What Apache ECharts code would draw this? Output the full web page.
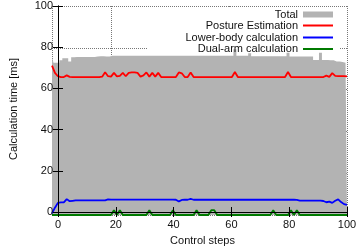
<!DOCTYPE html>
<html>
<head>
<meta charset="utf-8">
<script src="https://cdn.jsdelivr.net/npm/echarts@6/dist/echarts.min.js"></script>
<style>
  html, body { margin: 0; padding: 0; background: #fff; }
  #chart { width: 360px; height: 251px; }
</style>
</head>
<body>
<div id="chart"></div>
<script>
  // values per control step, index = step (0..100)
  const totalTime = [
    75.5, 72.8, 72.8, 74.0, 75.0, 75.0, 73.5, 75.5, 75.6, 75.6,
    75.6, 75.6, 75.6, 75.6, 75.6, 75.8, 76.0, 76.0, 75.8, 75.8,
    76.2, 76.2, 76.2, 76.2, 76.2, 76.2, 76.2, 76.2, 76.2, 76.2,
    76.2, 76.2, 76.2, 76.2, 76.2, 76.2, 76.2, 76.2, 76.2, 76.2,
    76.2, 76.2, 76.2, 76.2, 76.2, 76.2, 76.2, 76.2, 76.2, 76.2,
    76.2, 76.2, 76.2, 76.2, 76.2, 76.2, 76.2, 76.2, 76.2, 76.2,
    76.2, 76.2, 79.3, 76.2, 76.2, 76.2, 76.2, 77.4, 76.0, 76.0,
    76.0, 76.0, 76.0, 76.0, 76.0, 76.0, 76.0, 76.0, 76.0, 76.0,
    77.6, 75.8, 75.8, 75.8, 75.8, 75.8, 75.8, 75.8, 75.8, 74.2,
    74.2, 77.6, 74.2, 74.2, 74.0, 74.0, 73.4, 73.4, 73.2, 72.9,
    72.9
  ];
  const postureTime = [
    71.5, 68.0, 66.4, 66.0, 66.0, 66.8, 66.1, 66.0, 66.0, 66.0,
    66.0, 66.0, 66.0, 66.0, 66.0, 66.0, 66.0, 66.2, 68.3, 66.4,
    66.2, 68.0, 66.3, 66.6, 68.0, 66.4, 68.0, 68.2, 68.2, 68.0,
    66.2, 66.8, 68.2, 66.2, 68.0, 66.2, 68.0, 66.0, 66.0, 66.0,
    66.0, 66.0, 66.0, 68.2, 67.8, 66.0, 66.0, 68.2, 66.0, 66.0,
    66.0, 66.0, 66.0, 66.0, 66.0, 66.0, 66.0, 66.0, 66.0, 66.0,
    66.0, 66.0, 68.4, 66.0, 66.0, 66.0, 66.0, 66.0, 66.0, 66.0,
    66.0, 66.0, 66.0, 66.0, 66.0, 66.0, 66.0, 66.0, 66.0, 66.0,
    68.4, 66.0, 66.0, 66.0, 66.0, 66.0, 66.0, 66.0, 66.0, 66.0,
    66.0, 66.0, 66.0, 66.7, 66.1, 67.9, 66.6, 66.4, 66.4, 66.4,
    66.3
  ];
  const lowerBodyTime = [
    0.8, 3.5, 5.8, 6.0, 6.0, 7.6, 6.6, 6.8, 7.0, 7.0,
    7.0, 7.0, 7.0, 7.0, 7.0, 7.0, 7.0, 7.0, 7.0, 7.5,
    7.4, 7.4, 7.4, 7.4, 7.4, 7.4, 7.4, 7.4, 7.4, 7.4,
    7.4, 7.4, 7.4, 7.4, 7.4, 7.4, 7.4, 7.4, 7.4, 7.4,
    7.4, 7.4, 7.3, 6.5, 7.2, 7.3, 7.3, 7.7, 7.3, 7.3,
    7.3, 7.3, 7.3, 7.3, 7.3, 7.3, 7.3, 7.3, 7.3, 7.3,
    7.3, 7.3, 7.3, 7.3, 7.3, 7.3, 7.3, 7.3, 7.3, 7.3,
    7.3, 7.3, 7.3, 7.3, 7.3, 7.3, 7.3, 7.3, 7.3, 7.3,
    7.3, 7.3, 7.3, 7.2, 6.9, 6.9, 6.9, 6.9, 6.9, 6.9,
    6.9, 6.9, 6.7, 6.1, 6.4, 5.8, 6.8, 7.5, 6.2, 5.2,
    4.8
  ];
  const dualArmTime = [
    0, 0, 0, 0, 0, 0, 0, 0, 0, 0,
    0, 0, 0, 0, 0, 0, 0, 0, 0, 0,
    0, 2.3, 0, 2.3, 0, 0, 0, 0, 0, 0,
    0, 0, 0, 2.3, 0, 0, 0, 0, 0, 0,
    0, 2.3, 0, 0, 0, 0, 0, 0, 0, 2.3,
    0, 0, 0, 0, 2.3, 2.3, 0, 0, 0, 0,
    0, 0, 0, 0, 0, 0, 0, 0, 0, 0,
    0, 0, 0, 0, 0, 2.3, 0, 0, 0, 0,
    0, 2.3, 0, 2.3, 0, 0, 0, 0, 0, 0,
    0, 0, 0, 0, 0, 0, 0, 0, 0, 0,
    0
  ];

  const font = 'Liberation Sans, Arial, Helvetica, sans-serif';
  const textColor = '#111';

  const toPairs = (arr) => arr.map((v, i) => [i, v]);

  const chart = echarts.init(document.getElementById('chart'));

  const gridBox = { left: 52, right: 13, top: 6, bottom: 36 };

  // black frame, ticks and labels, drawn above the data
  const frameAxis = {
    type: 'value',
    min: 0,
    max: 100,
    interval: 20,
    gridIndex: 1,
    z: 5,
    axisLine: { show: true, lineStyle: { color: '#000', width: 1 } },
    axisTick: { show: true, inside: true, length: 5, lineStyle: { color: '#000' } },
    axisLabel: { show: false },
    splitLine: { show: false },
  };

  // dotted grid, drawn below the data
  const gridAxis = {
    type: 'value',
    min: 0,
    max: 100,
    interval: 20,
    gridIndex: 0,
    z: 0,
    axisLine: { show: false },
    axisTick: { show: false },
    axisLabel: { show: false },
    splitLine: { show: true, lineStyle: { color: '#777', type: 'dotted', width: 1 } },
  };

  const legendBase = {
    orient: 'horizontal',
    right: 27,
    align: 'right',
    itemWidth: 30,
    padding: 0,
    selectedMode: false,
    itemStyle: { borderWidth: 0 },
    textStyle: { fontFamily: font, fontSize: 11, color: textColor },
  };

  const option = {
    animation: false,
    grid: [gridBox, gridBox],
    graphic: [
      {
        type: 'rect',
        z: 1,
        shape: { x: 147, y: 7, width: 192, height: 50 },
        style: { fill: '#fff' },
      },
    ],
    legend: [
      { ...legendBase, top: 9, itemHeight: 6, data: [{ name: 'Total', icon: 'rect' }] },
      { ...legendBase, top: 20, itemHeight: 2, data: [{ name: 'Posture Estimation', icon: 'rect' }] },
      { ...legendBase, top: 32, itemHeight: 2, data: [{ name: 'Lower-body calculation', icon: 'rect' }] },
      { ...legendBase, top: 43.5, itemHeight: 2, data: [{ name: 'Dual-arm calculation', icon: 'rect' }] },
    ],
    xAxis: [
      gridAxis,
      {
        ...frameAxis,
        position: 'bottom',
        name: 'Control steps',
        nameLocation: 'middle',
        nameGap: 23,
        nameTextStyle: { fontFamily: font, fontSize: 11, color: textColor },
        axisLabel: { show: true, margin: 7, fontFamily: font, fontSize: 11, color: textColor },
      },
      { ...frameAxis, position: 'top' },
    ],
    yAxis: [
      gridAxis,
      {
        ...frameAxis,
        position: 'left',
        name: 'Calculation time [ms]',
        nameLocation: 'middle',
        nameGap: 39,
        nameTextStyle: { fontFamily: font, fontSize: 11, color: textColor },
        axisLabel: { show: true, margin: 5, fontFamily: font, fontSize: 11, color: textColor },
      },
      { ...frameAxis, position: 'right' },
    ],
    series: [
      {
        name: 'Total',
        type: 'line',
        step: 'middle',
        color: '#b3b3b3',
        symbol: 'none',
        data: toPairs(totalTime),
        lineStyle: { width: 0 },
        itemStyle: { color: '#b3b3b3' },
        areaStyle: { color: '#b3b3b3', opacity: 1 },
        z: 2,
      },
      {
        name: 'Posture Estimation',
        type: 'line',
        color: '#ff0000',
        symbol: 'none',
        data: toPairs(postureTime),
        lineStyle: { color: '#ff0000', width: 1.8 },
        itemStyle: { color: '#ff0000' },
        z: 3,
      },
      {
        name: 'Lower-body calculation',
        type: 'line',
        color: '#0000ff',
        symbol: 'none',
        data: toPairs(lowerBodyTime),
        lineStyle: { color: '#0000ff', width: 1.8 },
        itemStyle: { color: '#0000ff' },
        z: 3,
      },
      {
        name: 'Dual-arm calculation',
        type: 'line',
        color: '#007a00',
        symbol: 'none',
        clip: false,
        data: toPairs(dualArmTime),
        lineStyle: { color: '#007a00', width: 1.8 },
        itemStyle: { color: '#007a00' },
        z: 3,
      },
    ],
  };

  chart.setOption(option);
</script>
</body>
</html>
